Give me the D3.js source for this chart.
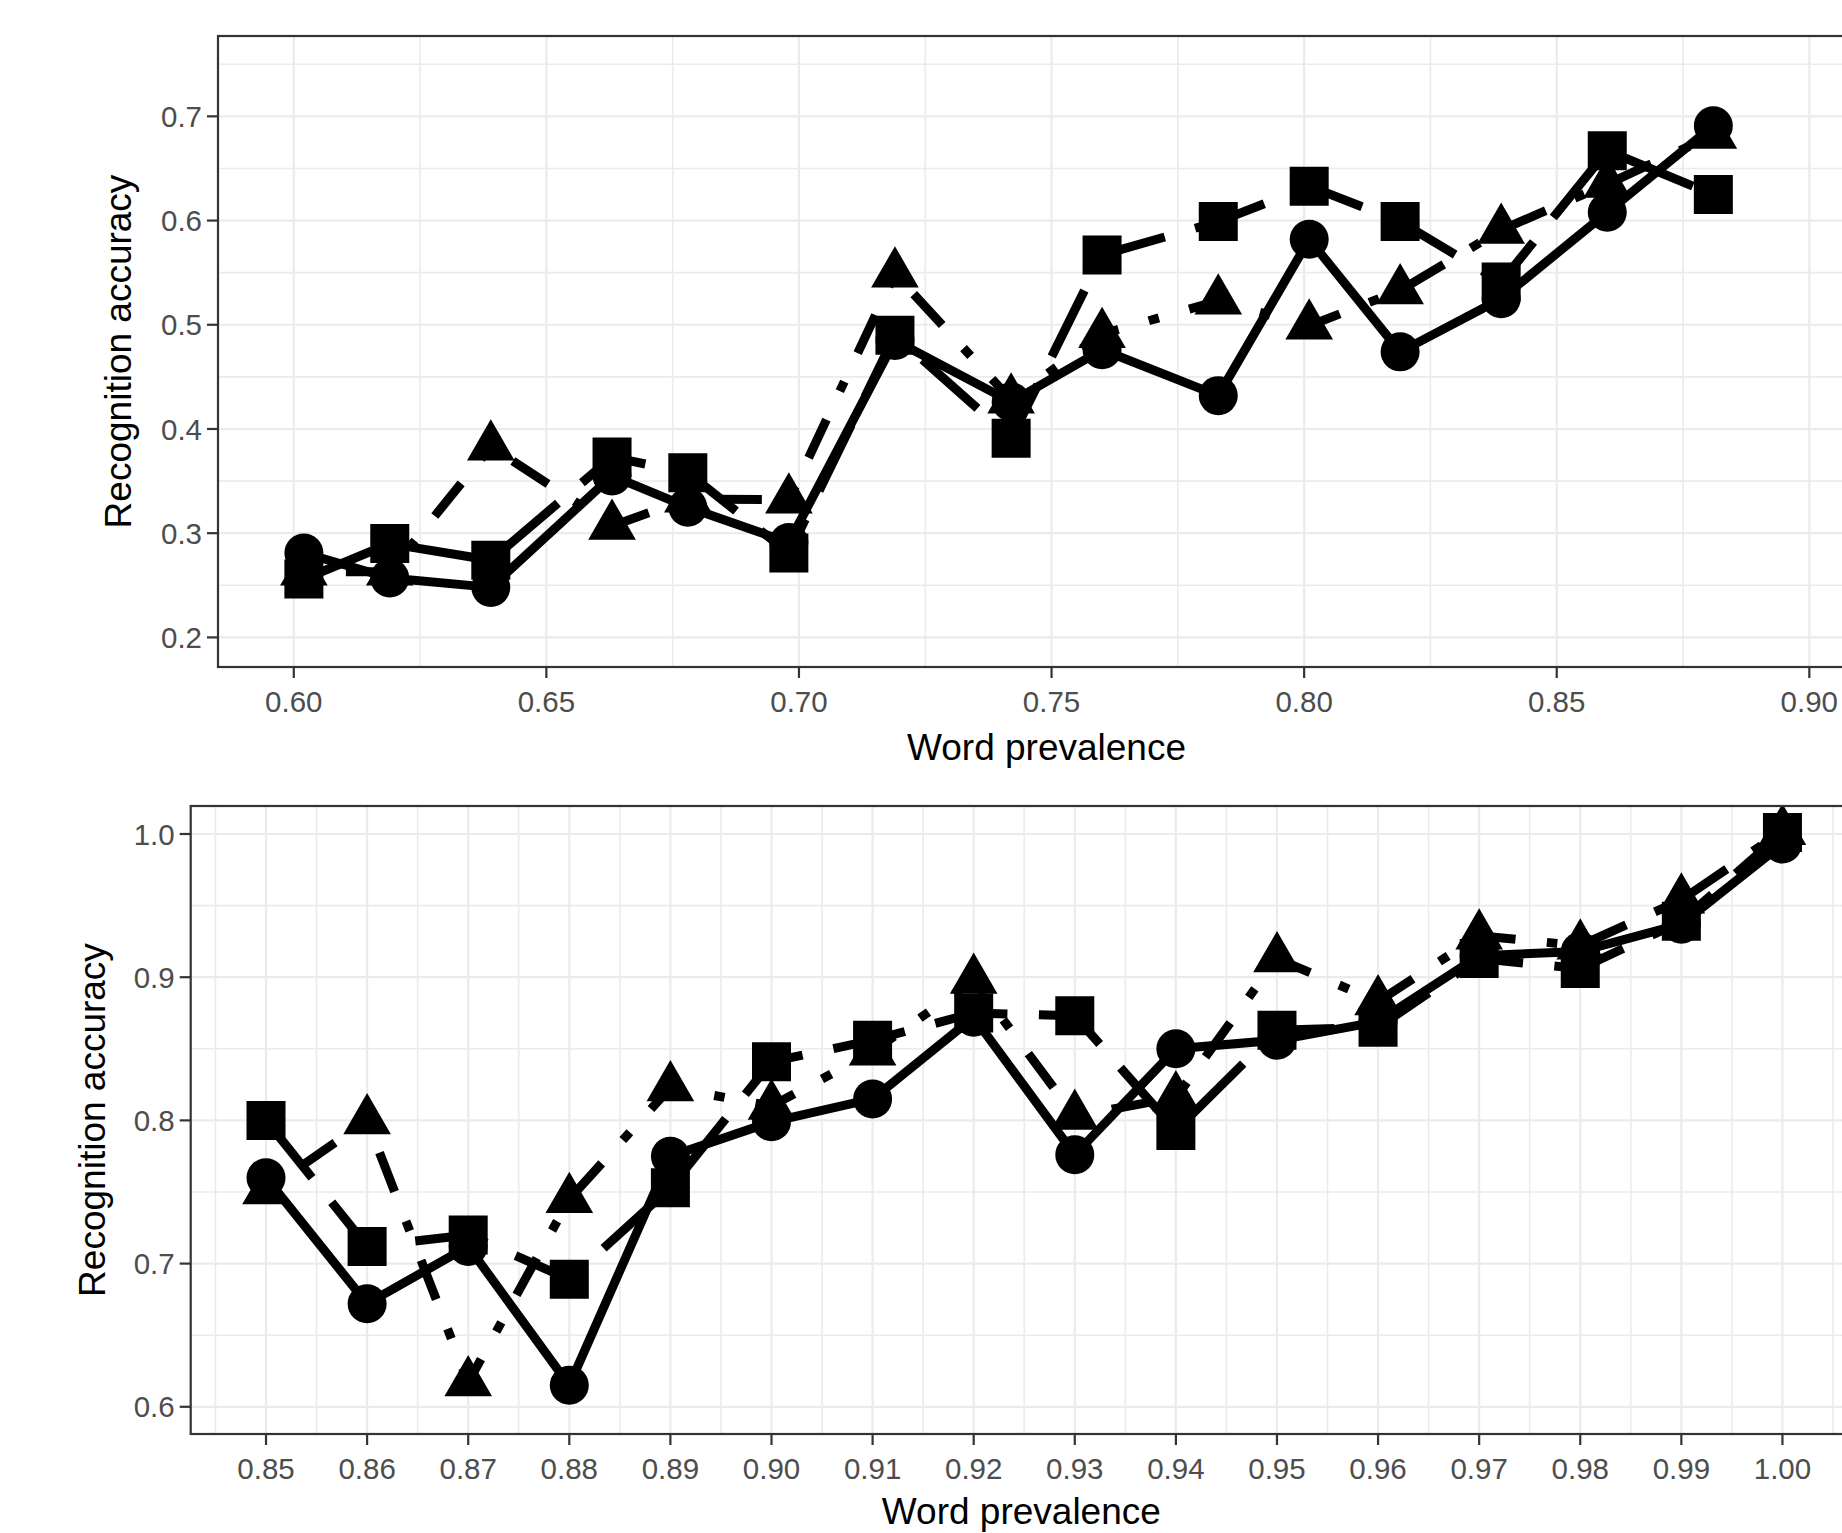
<!DOCTYPE html>
<html>
<head>
<meta charset="utf-8">
<script src="https://cdn.jsdelivr.net/npm/d3@7"></script>
<style>
  html, body { margin: 0; padding: 0; background: #ffffff; }
  svg { display: block; }
  text { font-family: "Liberation Sans", Arial, Helvetica, sans-serif; }
</style>
</head>
<body>
<script>
// ---------------- DATA ----------------
// Top panel
const topX        = [0.602, 0.619, 0.639, 0.663, 0.678, 0.698, 0.719, 0.742, 0.760, 0.783, 0.801, 0.819, 0.839, 0.860, 0.881];
const topCircle   = [0.281, 0.257, 0.248, 0.355, 0.325, 0.291, 0.485, 0.426, 0.476, 0.432, 0.582, 0.474, 0.525, 0.608, 0.691];
const topTriangle = [0.263, 0.263, 0.383, 0.307, 0.333, 0.332, 0.549, 0.428, 0.491, 0.523, 0.499, 0.533, 0.591, 0.635, 0.682];
const topSquare   = [0.256, 0.290, 0.274, 0.373, 0.358, 0.281, 0.490, 0.391, 0.567, 0.599, 0.633, 0.599, 0.541, 0.667, 0.625];

// Bottom panel
const bottomX        = [0.85, 0.86, 0.87, 0.88, 0.89, 0.90, 0.91, 0.92, 0.93, 0.94, 0.95, 0.96, 0.97, 0.98, 0.99, 1.00];
const bottomCircle   = [0.760, 0.672, 0.712, 0.615, 0.775, 0.799, 0.815, 0.872, 0.776, 0.850, 0.856, 0.869, 0.915, 0.918, 0.937, 0.993];
const bottomTriangle = [0.751, 0.800, 0.617, 0.745, 0.823, 0.810, 0.848, 0.898, 0.803, 0.816, 0.913, 0.883, 0.929, 0.922, 0.954, 1.002];
const bottomSquare   = [0.800, 0.712, 0.720, 0.689, 0.753, 0.841, 0.856, 0.875, 0.873, 0.793, 0.863, 0.865, 0.913, 0.906, 0.939, 1.001];

// Ticks
const topXTicks    = [0.60, 0.65, 0.70, 0.75, 0.80, 0.85, 0.90];
const topYTicks    = [0.2, 0.3, 0.4, 0.5, 0.6, 0.7];
const bottomXTicks = [0.85, 0.86, 0.87, 0.88, 0.89, 0.90, 0.91, 0.92, 0.93, 0.94, 0.95, 0.96, 0.97, 0.98, 0.99, 1.00];
const bottomYTicks = [0.6, 0.7, 0.8, 0.9, 1.0];

const xTitle = "Word prevalence";
const yTitle = "Recognition accuracy";

// ---------------- STYLE ----------------
const W = 1842, H = 1533;
const LW = 9;            // line width
const U = 10.5;          // dash unit
const dashes = {
  solid: null,
  dotdash: [1, 3, 4, 3].map(d => d * U).join(" "),
  longdash: [7, 3].map(d => d * U).join(" ")
};
const CIRCLE_R = 19.5, SQUARE_SIDE = 39, TRI_HALF = 13.75; // triangle: apex 2*TRI_HALF above centre

const svg = d3.select("body").append("svg")
  .attr("width", W).attr("height", H)
  .attr("viewBox", `0 0 ${W} ${H}`);
svg.append("rect").attr("width", W).attr("height", H).attr("fill", "#ffffff");

function drawPanel(cfg) {
  const x = d3.scaleLinear().domain(cfg.xDomain).range([cfg.left, cfg.right]);
  const y = d3.scaleLinear().domain(cfg.yDomain).range([cfg.bottom, cfg.top]);
  const g = svg.append("g");
  const clipId = "clip" + cfg.id;
  svg.append("clipPath").attr("id", clipId)
    .append("rect").attr("x", cfg.left).attr("y", cfg.top)
    .attr("width", cfg.right - cfg.left).attr("height", cfg.bottom - cfg.top);

  // minor breaks
  const xStep = cfg.xTicks[1] - cfg.xTicks[0];
  const yStep = cfg.yTicks[1] - cfg.yTicks[0];
  const inX = v => v >= cfg.xDomain[0] && v <= cfg.xDomain[1];
  const inY = v => v >= cfg.yDomain[0] && v <= cfg.yDomain[1];
  const xMinor = [cfg.xTicks[0] - xStep / 2, ...cfg.xTicks.map(t => t + xStep / 2)].filter(inX);
  const yMinor = [cfg.yTicks[0] - yStep / 2, ...cfg.yTicks.map(t => t + yStep / 2)].filter(inY);

  const grid = g.append("g").attr("clip-path", `url(#${clipId})`);
  grid.selectAll(".xmin").data(xMinor).join("line")
    .attr("x1", d => x(d)).attr("x2", d => x(d)).attr("y1", cfg.top).attr("y2", cfg.bottom)
    .attr("stroke", "#EBEBEB").attr("stroke-width", 1.6);
  grid.selectAll(".ymin").data(yMinor).join("line")
    .attr("y1", d => y(d)).attr("y2", d => y(d)).attr("x1", cfg.left).attr("x2", cfg.right)
    .attr("stroke", "#EBEBEB").attr("stroke-width", 1.6);
  grid.selectAll(".xmaj").data(cfg.xTicks).join("line")
    .attr("x1", d => x(d)).attr("x2", d => x(d)).attr("y1", cfg.top).attr("y2", cfg.bottom)
    .attr("stroke", "#EBEBEB").attr("stroke-width", 2.2);
  grid.selectAll(".ymaj").data(cfg.yTicks).join("line")
    .attr("y1", d => y(d)).attr("y2", d => y(d)).attr("x1", cfg.left).attr("x2", cfg.right)
    .attr("stroke", "#EBEBEB").attr("stroke-width", 2.2);

  // series
  const series = [
    { vals: cfg.circle,   dash: dashes.solid,    shape: "circle" },
    { vals: cfg.triangle, dash: dashes.dotdash,  shape: "triangle" },
    { vals: cfg.square,   dash: dashes.longdash, shape: "square" }
  ];
  const data = g.append("g").attr("clip-path", `url(#${clipId})`);
  const line = d3.line().x(d => x(d[0])).y(d => y(d[1]));
  series.forEach(s => {
    const pts = cfg.xs.map((v, i) => [v, s.vals[i]]);
    data.append("path").datum(pts)
      .attr("d", line)
      .attr("fill", "none").attr("stroke", "#000").attr("stroke-width", LW)
      .attr("stroke-linejoin", "round").attr("stroke-linecap", "butt")
      .attr("stroke-dasharray", s.dash);
  });
  const symbols = {
    circle: d3.symbol().type(d3.symbolCircle).size(Math.PI * CIRCLE_R * CIRCLE_R),
    square: d3.symbol().type(d3.symbolSquare).size(SQUARE_SIDE * SQUARE_SIDE),
    triangle: d3.symbol().type(d3.symbolTriangle).size(TRI_HALF * TRI_HALF * Math.sqrt(3) * 3)
  };
  series.forEach(s => {
    const pts = cfg.xs.map((v, i) => [v, s.vals[i]]);
    data.selectAll(null).data(pts).join("path")
      .attr("transform", d => `translate(${x(d[0])},${y(d[1])})`)
      .attr("d", symbols[s.shape]())
      .attr("fill", "#000");
  });

  // panel border
  g.append("rect").attr("x", cfg.left).attr("y", cfg.top)
    .attr("width", cfg.right - cfg.left).attr("height", cfg.bottom - cfg.top)
    .attr("fill", "none").attr("stroke", "#333333").attr("stroke-width", 2.2);

  // axes ticks
  const TL = 11, FS = 29.5;
  g.selectAll(".xt").data(cfg.xTicks).join("line")
    .attr("x1", d => x(d)).attr("x2", d => x(d)).attr("y1", cfg.bottom).attr("y2", cfg.bottom + TL)
    .attr("stroke", "#333333").attr("stroke-width", 2.2);
  g.selectAll(".yt").data(cfg.yTicks).join("line")
    .attr("y1", d => y(d)).attr("y2", d => y(d)).attr("x1", cfg.left - TL).attr("x2", cfg.left)
    .attr("stroke", "#333333").attr("stroke-width", 2.2);
  g.selectAll(".xl").data(cfg.xTicks).join("text")
    .attr("x", d => x(d)).attr("y", cfg.bottom + 45)
    .attr("text-anchor", "middle").attr("font-size", FS).attr("fill", "#4D4D4D")
    .text(d => d3.format(".2f")(d));
  g.selectAll(".yl").data(cfg.yTicks).join("text")
    .attr("x", cfg.left - TL - 5).attr("y", d => y(d) + FS * 0.36)
    .attr("text-anchor", "end").attr("font-size", FS).attr("fill", "#4D4D4D")
    .text(d => d3.format(".1f")(d));

  // titles
  g.append("text")
    .attr("x", (cfg.left + cfg.right) / 2).attr("y", cfg.bottom + cfg.xTitleOffset)
    .attr("text-anchor", "middle").attr("font-size", 37).attr("fill", "#000")
    .text(xTitle);
  g.append("text")
    .attr("transform", `translate(${cfg.yTitleX},${(cfg.top + cfg.bottom) / 2}) rotate(-90)`)
    .attr("text-anchor", "middle").attr("font-size", 37).attr("fill", "#000")
    .text(yTitle);
}

drawPanel({
  id: "top", left: 218, right: 1875, top: 36, bottom: 667,
  xDomain: [0.585, 0.913], yDomain: [0.1716, 0.7771],
  xTicks: topXTicks, yTicks: topYTicks, yTitleX: 131, xTitleOffset: 93,
  xs: topX, circle: topCircle, triangle: topTriangle, square: topSquare
});

drawPanel({
  id: "bottom", left: 190.7, right: 1852, top: 806, bottom: 1434,
  xDomain: [0.84255, 1.00688], yDomain: [0.5810, 1.01955],
  xTicks: bottomXTicks, yTicks: bottomYTicks, yTitleX: 105, xTitleOffset: 90,
  xs: bottomX, circle: bottomCircle, triangle: bottomTriangle, square: bottomSquare
});
</script>
</body>
</html>
